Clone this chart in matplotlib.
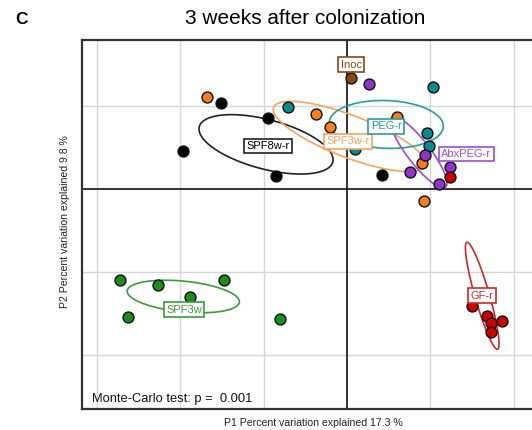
import numpy as np
import matplotlib
matplotlib.use("Agg")
import matplotlib.pyplot as plt
from matplotlib.patches import Polygon

plt.rcParams['font.family'] = ['Liberation Sans', 'DejaVu Sans']

# ---- data (principal-coordinate scores, grid unit = 1) ----
groups = ["SPF8w-r", "SPF3w-r", "PEG-r", "AbxPEG-r", "Inoc", "GF-r", "SPF3w"]

spf8wr_x = [-1.51, -1.97, -0.95, -0.85, 0.42]
spf8wr_y = [1.04, 0.46, 0.86, 0.16, 0.17]

spf3wr_x = [-1.68, -0.37, -0.20, 0.60, 0.90, 0.92]
spf3wr_y = [1.11, 0.90, 0.75, 0.87, 0.31, -0.14]

pegr_x = [-0.71, 1.03, 0.96, 0.98, 0.10]
pegr_y = [0.99, 1.23, 0.67, 0.52, 0.48]

abxpegr_x = [0.26, 0.94, 0.76, 1.24, 1.10]
abxpegr_y = [1.27, 0.41, 0.20, 0.27, 0.06]

inoc_x = [0.05]
inoc_y = [1.34]

gfr_x = [1.24, 1.50, 1.68, 1.73, 1.86, 1.73]
gfr_y = [0.14, -1.41, -1.53, -1.61, -1.59, -1.72]

spf3w_x = [-2.73, -2.27, -1.48, -1.88, -2.63, -0.80]
spf3w_y = [-1.10, -1.16, -1.10, -1.30, -1.54, -1.57]

p_value = 0.001

xs = [spf8wr_x, spf3wr_x, pegr_x, abxpegr_x, inoc_x, gfr_x, spf3w_x]
ys = [spf8wr_y, spf3wr_y, pegr_y, abxpegr_y, inoc_y, gfr_y, spf3w_y]

# ---- styles ----
point_colors = ["#000000", "#F47F20", "#0A8A8A", "#8E35C8", "#8B4513", "#CC0000", "#1E8B1E"]
ell_colors = ["#222222", "#F5A461", "#2A9D9D", "#9A4FD0", "#8B4513", "#CC2A2A", "#3C9A3C"]
label_offsets = [(0.02, -0.02), (-0.02, -0.06), (0.0, -0.02), (0.57, -0.02),
                 (0.0, 0.16), (0.0, 0.0), (0.01, -0.16)]

W, H = 532, 430
fig = plt.figure(figsize=(W / 100, H / 100), dpi=100)
px_left, px_right, px_top, px_bot = 82, 575, 40, 409
ax = fig.add_axes([px_left / W, (H - px_bot) / H, (px_right - px_left) / W, (px_bot - px_top) / H])

ox, oy, ux, uy = 347, 189, 83.3, 83.0
ax.set_xlim((px_left - ox) / ux, (px_right - ox) / ux)
ax.set_ylim((oy - px_bot) / uy, (oy - px_top) / uy)

for g in range(-3, 3):
    if g != 0:
        ax.axvline(g, color="#d6d6d6", lw=1.0, zorder=0)
for g in range(-2, 2):
    if g != 0:
        ax.axhline(g, color="#d6d6d6", lw=1.0, zorder=0)
ax.axvline(0, color="#111111", lw=1.2, zorder=1)
ax.axhline(0, color="#111111", lw=1.2, zorder=1)

t = np.linspace(0, 2 * np.pi, 200)
for name, x, y, pc, ec, off in zip(groups, xs, ys, point_colors, ell_colors, label_offsets):
    x = np.asarray(x); y = np.asarray(y)
    mx, my = x.mean(), y.mean()
    if len(x) > 1:
        cov = np.cov(np.vstack([x, y]), bias=True)
        vals, vecs = np.linalg.eigh(cov)
        circ = np.vstack([np.cos(t), np.sin(t)])
        pts = vecs @ (np.sqrt(np.maximum(vals, 0))[:, None] * circ)
        ax.add_patch(Polygon(np.column_stack([pts[0] + mx, pts[1] + my]), closed=True,
                             fill=False, edgecolor=ec, lw=1.2, zorder=2))
    ax.scatter(x, y, s=62, c=pc, edgecolors="#111111", linewidths=1.0, zorder=3)
    ax.text(mx + off[0], my + off[1], name, color=ec if name != "SPF8w-r" else "#000000",
            fontsize=8, ha="center", va="center", zorder=5,
            bbox=dict(boxstyle="square,pad=0.22", facecolor="white", edgecolor=ec, lw=1.2))

ax.set_xticks([]); ax.set_yticks([])
for s in ax.spines.values():
    s.set_color("#333333"); s.set_linewidth(1.6)

ax.text(0.02, 0.012, f"Monte-Carlo test: p =  {p_value:.3f}", transform=ax.transAxes,
        fontsize=9.3, ha="left", va="bottom", color="#111111")

fig.text(305 / W, 1 - 19 / H, "3 weeks after colonization", fontsize=15, ha="center", va="center")
fig.text(22 / W, 1 - 19 / H, "C", fontsize=12.5, fontweight="bold", ha="center", va="center")
fig.text(313 / W, 1 - 423 / H, "P1 Percent variation explained 17.3 %", fontsize=7.6, ha="center",
         va="center", color="#222222")
fig.text(65 / W, 1 - 222 / H, "P2 Percent variation explained 9.8 %", fontsize=7.6, ha="center",
         va="center", rotation=90, color="#222222")

fig.savefig("out.png", dpi=100)
